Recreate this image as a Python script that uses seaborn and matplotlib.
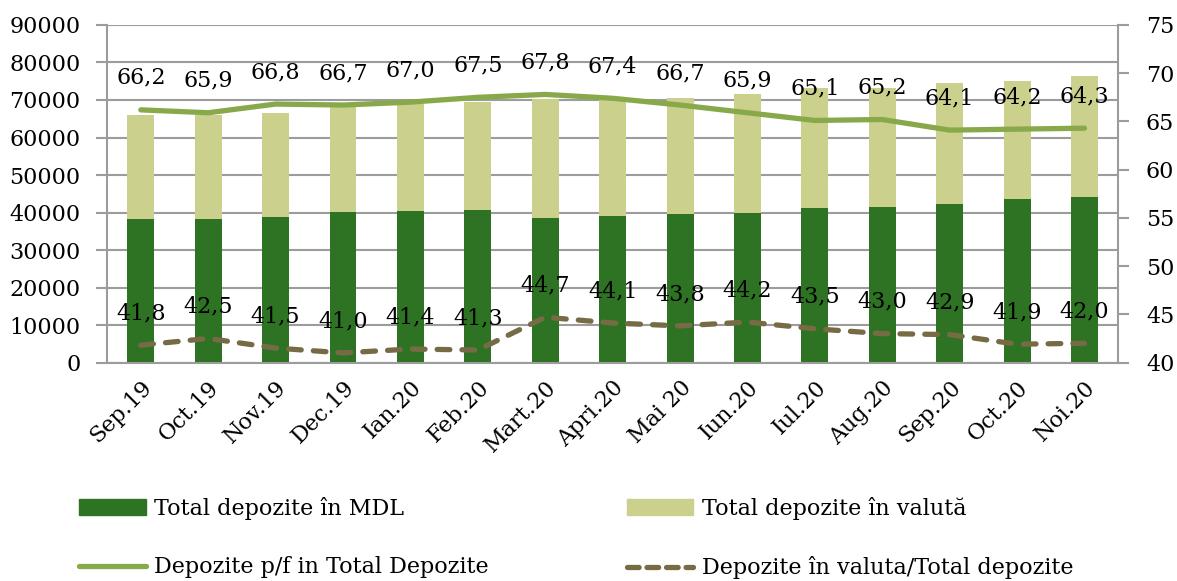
import numpy as np
import pandas as pd
import seaborn as sns
import matplotlib.pyplot as plt
from matplotlib.patches import Patch
from matplotlib.lines import Line2D

# Data
months = ['Sep.19', 'Oct.19', 'Nov.19', 'Dec.19', 'Ian.20', 'Feb.20', 'Mart.20', 'Apri.20',
          'Mai 20', 'Iun.20', 'Iul.20', 'Aug.20', 'Sep.20', 'Oct.20', 'Noi.20']
mdl = [38300, 38400, 38900, 40200, 40300, 40700, 38600, 39000,
       39500, 40000, 41200, 41500, 42400, 43500, 44200]
valuta = [27700, 27600, 27750, 28200, 28700, 28800, 31600, 31300,
          30900, 31700, 31900, 31800, 32050, 31600, 32200]
pf_share = [66.2, 65.9, 66.8, 66.7, 67.0, 67.5, 67.8, 67.4, 66.7, 65.9, 65.1, 65.2, 64.1, 64.2, 64.3]
val_share = [41.8, 42.5, 41.5, 41.0, 41.4, 41.3, 44.7, 44.1, 43.8, 44.2, 43.5, 43.0, 42.9, 41.9, 42.0]

c_mdl = '#2e7223'
c_val = '#cbd18c'
c_pf = '#88a94a'
c_vs = '#766b45'
grid_c = '#9c9c9c'

sns.set_style('white')
plt.rcParams['font.family'] = ['DejaVu Serif']
plt.rcParams['text.color'] = 'black'
fs = 16

df = pd.DataFrame({'month': months, 'mdl': mdl, 'valuta': valuta,
                   'pf': pf_share, 'vs': val_share})
df['total'] = df['mdl'] + df['valuta']
df['pos'] = range(len(df))

fig = plt.figure(figsize=(11.77, 5.81), dpi=100)
ax = fig.add_axes([0.091, 0.376, 0.859, 0.581])

# Stacked bars: total (light) then MDL (dark) on top of it
sns.barplot(data=df, x='month', y='total', color=c_val, width=0.4, ax=ax,
            saturation=1, errorbar=None, linewidth=0)
sns.barplot(data=df, x='month', y='mdl', color=c_mdl, width=0.4, ax=ax,
            saturation=1, errorbar=None, linewidth=0)

ax.set_ylim(0, 90000)
ax.set_yticks(range(0, 90001, 10000))
ax.set_xlim(-0.5, len(months) - 0.5)
ax.set_axisbelow(True)
ax.yaxis.grid(True, color=grid_c, lw=1.5)
ax.set_xlabel('')
ax.set_ylabel('')
ax.set_xticks(range(len(months)))
ax.set_xticklabels(months, rotation=45, ha='right', rotation_mode='anchor', fontsize=fs)
ax.set_xticks(np.arange(-0.5, len(months)), minor=True)
ax.tick_params(axis='x', which='major', length=0, pad=10, labelcolor='black')
ax.tick_params(axis='x', which='minor', length=8, width=1.5, color=grid_c, direction='out')
ax.tick_params(axis='y', length=8, width=1.5, color=grid_c, labelsize=fs, pad=11,
               labelcolor='black')
for s in ['left', 'right', 'bottom']:
    ax.spines[s].set_color(grid_c)
    ax.spines[s].set_linewidth(1.5)
ax.spines['top'].set_visible(False)

# Share lines on secondary axis
ax2 = ax.twinx()
sns.lineplot(data=df, x='pos', y='pf', ax=ax2, color=c_pf, lw=3.8,
             solid_capstyle='round')
sns.lineplot(data=df, x='pos', y='vs', ax=ax2, color=c_vs, lw=3.8,
             dashes=False)
ax2.lines[1].set_dashes((2.4, 2.3))
ax2.lines[1].set_dash_capstyle('round')
ax2.set_ylim(40, 75)
ax2.set_yticks(range(40, 76, 5))
ax2.set_xlim(-0.5, len(months) - 0.5)
ax2.set_xlabel('')
ax2.set_ylabel('')
ax2.tick_params(axis='y', length=8, width=1.5, color=grid_c, labelsize=fs, pad=12,
                labelcolor='black')
for s in ['left', 'right', 'bottom', 'top']:
    ax2.spines[s].set_visible(False)

# Data labels above both lines
for x, v in zip(df['pos'], df['pf']):
    ax2.annotate(f'{v:.1f}'.replace('.', ','), (x, v), xytext=(0, 23),
                 textcoords='offset points', ha='center', va='center', fontsize=fs)
for x, v in zip(df['pos'], df['vs']):
    ax2.annotate(f'{v:.1f}'.replace('.', ','), (x, v), xytext=(0, 23),
                 textcoords='offset points', ha='center', va='center', fontsize=fs)

handles = [
    Patch(color=c_mdl, label='Total depozite în MDL'),
    Line2D([], [], color=c_pf, lw=3.8, solid_capstyle='round',
           label='Depozite p/f in Total Depozite'),
    Patch(color=c_val, label='Total depozite în valută'),
    Line2D([], [], color=c_vs, lw=3.8, dashes=(2.2, 1.5), dash_capstyle='round',
           label='Depozite în valuta/Total depozite'),
]
fig.legend(handles=handles, ncol=2, loc='upper left', bbox_to_anchor=(0.067, 0.145),
           frameon=False, fontsize=fs, handlelength=3.0, handleheight=0.7,
           handletextpad=0.4, columnspacing=6.2, labelspacing=1.65,
           borderaxespad=0, borderpad=0)

plt.savefig('out.png', dpi=100)
